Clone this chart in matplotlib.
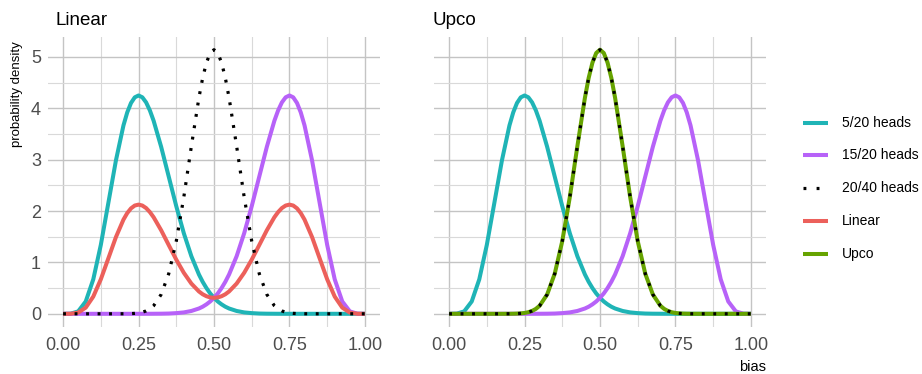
import numpy as np
import matplotlib
matplotlib.use("Agg")
import matplotlib.pyplot as plt
from matplotlib import font_manager as fm
from matplotlib.lines import Line2D

# ----------------------------------------------------------------------
# data (density vs bias)
# ----------------------------------------------------------------------
bias = [0.0, 0.025, 0.05, 0.075, 0.1, 0.125, 0.15, 0.175, 0.2, 0.2125, 0.225,
        0.2375, 0.25, 0.2625, 0.275, 0.2875, 0.3, 0.325, 0.35, 0.375, 0.4,
        0.425, 0.45, 0.4625, 0.475, 0.4875, 0.5, 0.5125, 0.525, 0.5375, 0.55,
        0.575, 0.6, 0.625, 0.65, 0.675, 0.7, 0.7125, 0.725, 0.7375, 0.75,
        0.7625, 0.775, 0.7875, 0.8, 0.825, 0.85, 0.875, 0.9, 0.925, 0.95,
        0.975, 1.0]

heads_5_20 = [0.0, 0.0022, 0.047, 0.240, 0.670, 1.341, 2.160, 2.983, 3.666, 3.919, 4.103,
              4.213, 4.249, 4.214, 4.115, 3.959, 3.756, 3.248, 2.671, 2.094, 1.568,
              1.121, 0.766, 0.622, 0.500, 0.396, 0.311, 0.240, 0.184, 0.138, 0.103,
              0.055, 0.027, 0.013, 0.005, 0.002, 0.001, 0.0005, 0.0003, 0.0001, 0.0,
              0.0, 0.0, 0.0, 0.0, 0.0, 0.0, 0.0, 0.0, 0.0, 0.0,
              0.0, 0.0]

heads_15_20 = [0.0, 0.0, 0.0, 0.0, 0.0, 0.0, 0.0, 0.0, 0.0, 0.0, 0.0,
               0.0, 0.0, 0.0001, 0.0003, 0.0005, 0.001, 0.002, 0.005, 0.013, 0.027,
               0.055, 0.103, 0.138, 0.184, 0.240, 0.311, 0.396, 0.500, 0.622, 0.766,
               1.121, 1.568, 2.094, 2.671, 3.248, 3.756, 3.959, 4.115, 4.214, 4.249,
               4.213, 4.103, 3.919, 3.666, 2.983, 2.160, 1.341, 0.670, 0.240, 0.047,
               0.0022, 0.0]

heads_20_40 = [0.0, 0.0, 0.0, 0.0, 0.0, 0.0, 0.0, 0.0001, 0.0007, 0.0017, 0.0038,
               0.0081, 0.0163, 0.0309, 0.0556, 0.0956, 0.157, 0.377, 0.780, 1.414, 2.272,
               3.261, 4.204, 4.592, 4.889, 5.076, 5.140, 5.076, 4.889, 4.592, 4.204,
               3.261, 2.272, 1.414, 0.780, 0.377, 0.157, 0.0956, 0.0556, 0.0309, 0.0163,
               0.0081, 0.0038, 0.0017, 0.0007, 0.0001, 0.0, 0.0, 0.0, 0.0, 0.0,
               0.0, 0.0]

linear = [0.0, 0.0011, 0.0235, 0.120, 0.335, 0.671, 1.080, 1.492, 1.833, 1.960, 2.052,
          2.107, 2.125, 2.107, 2.058, 1.980, 1.879, 1.625, 1.338, 1.054, 0.798,
          0.588, 0.435, 0.380, 0.342, 0.318, 0.311, 0.318, 0.342, 0.380, 0.435,
          0.588, 0.798, 1.054, 1.338, 1.625, 1.879, 1.980, 2.058, 2.107, 2.125,
          2.107, 2.052, 1.960, 1.833, 1.492, 1.080, 0.671, 0.335, 0.120, 0.0235,
          0.0011, 0.0]

upco = [0.0, 0.0, 0.0, 0.0, 0.0, 0.0, 0.0, 0.0001, 0.0007, 0.0017, 0.0038,
        0.0081, 0.0163, 0.0309, 0.0556, 0.0956, 0.157, 0.377, 0.780, 1.414, 2.272,
        3.261, 4.204, 4.592, 4.889, 5.076, 5.140, 5.076, 4.889, 4.592, 4.204,
        3.261, 2.272, 1.414, 0.780, 0.377, 0.157, 0.0956, 0.0556, 0.0309, 0.0163,
        0.0081, 0.0038, 0.0017, 0.0007, 0.0001, 0.0, 0.0, 0.0, 0.0, 0.0,
        0.0, 0.0]

panel_titles = ["Linear", "Upco"]
legend_labels = ["5/20 heads", "15/20 heads", "20/40 heads", "Linear", "Upco"]
x_ticks = [0.0, 0.25, 0.5, 0.75, 1.0]
x_ticklabels = ["0.00", "0.25", "0.50", "0.75", "1.00"]
y_ticks = [0, 1, 2, 3, 4, 5]

# ----------------------------------------------------------------------
# style
# ----------------------------------------------------------------------
names = {f.name for f in fm.fontManager.ttflist}
base_font = "Liberation Sans" if "Liberation Sans" in names else "DejaVu Sans"
narrow_font = "Liberation Sans Narrow" if "Liberation Sans Narrow" in names else base_font
plt.rcParams["font.family"] = [base_font, "DejaVu Sans"]

c_teal = "#1FB4B6"
c_purple = "#B762F8"
c_red = "#EC605B"
c_green = "#66A300"
lw = 2.9
dot_style = dict(color="black", lw=2.3, linestyle=(0, (0.9, 2.7)), dash_capstyle="butt")

W, H = 922, 374
fig = plt.figure(figsize=(W / 100, H / 100), dpi=100)


def px_rect(x0, y0, x1, y1):
    return [x0 / W, 1 - y1 / H, (x1 - x0) / W, (y1 - y0) / H]


ax1 = fig.add_axes(px_rect(48, 36.5, 380, 327))
ax2 = fig.add_axes(px_rect(434, 36.5, 766, 327))

tick_size = 14 if narrow_font != base_font else 13
for ax in (ax1, ax2):
    ax.set_xlim(-0.05, 1.05)
    ax.set_ylim(-0.257, 5.397)
    for s in ax.spines.values():
        s.set_visible(False)
    ax.set_xticks(x_ticks)
    ax.set_xticklabels(x_ticklabels)
    ax.set_xticks([0.125, 0.375, 0.625, 0.875], minor=True)
    ax.set_yticks(y_ticks)
    ax.set_yticks([0.5, 1.5, 2.5, 3.5, 4.5], minor=True)
    ax.grid(which="major", color="#C4C4C4", lw=1.0)
    ax.grid(which="minor", color="#D9D9D9", lw=0.8)
    ax.set_axisbelow(True)
    ax.tick_params(which="both", length=0)
    ax.tick_params(axis="x", pad=7, labelsize=tick_size, labelcolor="#4D4D4D")
    ax.tick_params(axis="y", pad=5, labelsize=tick_size, labelcolor="#4D4D4D")
    for lab in ax.get_xticklabels() + ax.get_yticklabels():
        lab.set_fontfamily(narrow_font)

ax2.set_yticklabels([])

# left panel
ax1.plot(bias, heads_5_20, color=c_teal, lw=lw, solid_capstyle="butt")
ax1.plot(bias, heads_15_20, color=c_purple, lw=lw, solid_capstyle="butt")
ax1.plot(bias, linear, color=c_red, lw=lw, solid_capstyle="butt")
ax1.plot(bias, heads_20_40, **dot_style)

# right panel
ax2.plot(bias, heads_5_20, color=c_teal, lw=lw, solid_capstyle="butt")
ax2.plot(bias, heads_15_20, color=c_purple, lw=lw, solid_capstyle="butt")
ax2.plot(bias, upco, color=c_green, lw=lw, solid_capstyle="butt")
ax2.plot(bias, heads_20_40, **dot_style)

# titles and axis labels
fig.text(55 / W, 1 - 25 / H, panel_titles[0], fontsize=13.5, color="black", va="baseline")
fig.text(432 / W, 1 - 25 / H, panel_titles[1], fontsize=13.5, color="black", va="baseline")
fig.text(17 / W, 1 - 41 / H, "probability density", rotation=90, fontsize=9.5,
         family=[narrow_font, "DejaVu Sans"], ha="center", va="top", color="black")
fig.text(766 / W, 1 - 371 / H, "bias", fontsize=10.5, ha="right", va="baseline", color="black")

# legend
leg_y = [123, 155, 188, 221, 254]
leg_colors = [c_teal, c_purple, "black", c_red, c_green]
for i, (lab, col) in enumerate(zip(legend_labels, leg_colors)):
    yy = 1 - leg_y[i] / H
    if lab == "20/40 heads":
        ln = Line2D([803 / W, 829 / W], [yy, yy], transform=fig.transFigure,
                    color="black", lw=2.3, linestyle=(0, (0.9, 3.2)), dash_capstyle="butt")
    else:
        ln = Line2D([803 / W, 828 / W], [yy, yy], transform=fig.transFigure,
                    color=col, lw=lw, solid_capstyle="butt")
    fig.add_artist(ln)
    fig.text(842 / W, yy, lab, fontsize=10, va="center", ha="left", color="black")

fig.savefig("out.png", dpi=100)
